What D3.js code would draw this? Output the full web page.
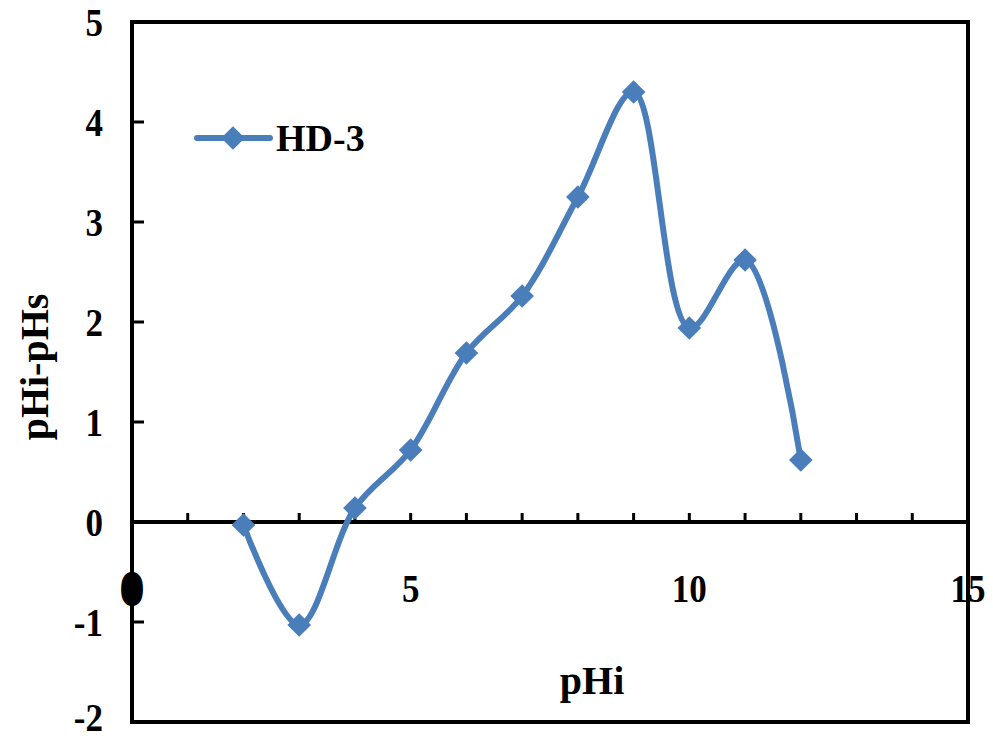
<!DOCTYPE html>
<html>
<head>
<meta charset="utf-8">
<script src="https://cdn.jsdelivr.net/npm/d3@7"></script>
<style>
  html, body { margin: 0; padding: 0; background: #fff; }
  svg { display: block; }
  text { font-family: "Liberation Serif", "Times New Roman", serif; fill: #000; }
</style>
</head>
<body>
<svg id="chart" width="993" height="742"></svg>
<script>
// pHi vs (pHi - pHs) for sample HD-3
const pHi = [2, 3, 4, 5, 6, 7, 8, 9, 10, 11, 12];
const delta = [-0.03, -1.03, 0.14, 0.72, 1.69, 2.26, 3.25, 4.30, 1.94, 2.62, 0.62];
const seriesName = "HD-3";
const xTickLabels = [0, 5, 10, 15];
const yTickLabels = [-2, -1, 0, 1, 2, 3, 4, 5];
const xMinorTicks = d3.range(1, 15);

const plotL = 132, plotR = 968, plotT = 22, plotB = 722;
const blue = "#4a7ebb";

const svg = d3.select("#chart");
const x = d3.scaleLinear().domain([0, 15]).range([plotL, plotR]);
const y = d3.scaleLinear().domain([-2, 5]).range([plotB, plotT]);

// y tick labels (right aligned, left of the frame)
svg.append("g").selectAll("text").data(yTickLabels).join("text")
  .attr("text-anchor", "end")
  .attr("font-weight", "bold")
  .attr("font-size", 35)
  .attr("transform", d => `translate(103,${Math.min(y(d), 717)}) scale(1,1.15)`)
  .attr("dy", "0.35em")
  .text(d => d);

// x tick labels below the zero line
svg.append("g").selectAll("text").data(xTickLabels).join("text")
  .attr("text-anchor", "middle")
  .attr("font-weight", "bold")
  .attr("font-size", 35)
  .attr("transform", d => `translate(${x(d)},${y(-0.66)}) scale(1,1.15)`)
  .attr("dy", "0.35em")
  .attr("stroke", d => d === 0 ? "#000" : "none")
  .attr("stroke-width", d => d === 0 ? 7 : 0)
  .text(d => d);

// axis titles
svg.append("text")
  .attr("text-anchor", "middle")
  .attr("font-weight", "bold")
  .attr("font-size", 40)
  .attr("transform", `translate(${(plotL + plotR) / 2 + 42},${y(-1.58)})`)
  .attr("dy", "0.35em")
  .text("pHi");

svg.append("text")
  .attr("text-anchor", "middle")
  .attr("font-weight", "bold")
  .attr("font-size", 40)
  .attr("transform", `translate(34,367) rotate(-90)`)
  .attr("dy", "0.35em")
  .text("pHi-pHs");

// y ticks pointing inward
svg.append("g").selectAll("line").data(yTickLabels.slice(1, -1)).join("line")
  .attr("x1", plotL).attr("x2", plotL + 12)
  .attr("y1", d => y(d)).attr("y2", d => y(d))
  .attr("stroke", "#000").attr("stroke-width", 3);

// zero line with upward ticks
svg.append("line")
  .attr("x1", plotL).attr("x2", plotR)
  .attr("y1", y(0)).attr("y2", y(0))
  .attr("stroke", "#000").attr("stroke-width", 4);
svg.append("g").selectAll("line").data(xMinorTicks).join("line")
  .attr("x1", d => x(d)).attr("x2", d => x(d))
  .attr("y1", y(0)).attr("y2", y(0) - 9)
  .attr("stroke", "#000").attr("stroke-width", 3);

// frame
svg.append("rect")
  .attr("x", plotL).attr("y", plotT)
  .attr("width", plotR - plotL).attr("height", plotB - plotT)
  .attr("fill", "none").attr("stroke", "#000").attr("stroke-width", 4);

// smoothed series line
const pts = pHi.map((v, i) => [v, delta[i]]);
const line = d3.line()
  .x(d => x(d[0])).y(d => y(d[1]))
  .curve(d3.curveCatmullRom.alpha(0.5));
svg.append("path")
  .attr("d", line(pts))
  .attr("fill", "none")
  .attr("stroke", blue)
  .attr("stroke-width", 6)
  .attr("stroke-linejoin", "round")
  .attr("stroke-linecap", "round");

// diamond markers
const diamond = d3.symbol().type(d3.symbolSquare).size(280);
svg.append("g").selectAll("path").data(pts).join("path")
  .attr("d", diamond)
  .attr("transform", d => `translate(${x(d[0])},${y(d[1])}) rotate(45)`)
  .attr("fill", blue);

// legend
const lg = svg.append("g").attr("transform", "translate(197,138)");
lg.append("line").attr("x1", 0).attr("x2", 73).attr("y1", 0).attr("y2", 0)
  .attr("stroke", blue).attr("stroke-width", 6).attr("stroke-linecap", "round");
lg.append("path").attr("d", diamond).attr("transform", "translate(36,0) rotate(45)").attr("fill", blue);
lg.append("text").attr("x", 79).attr("dy", "0.35em")
  .attr("font-size", 38).attr("font-weight", "bold")
  .text(seriesName);
</script>
</body>
</html>
